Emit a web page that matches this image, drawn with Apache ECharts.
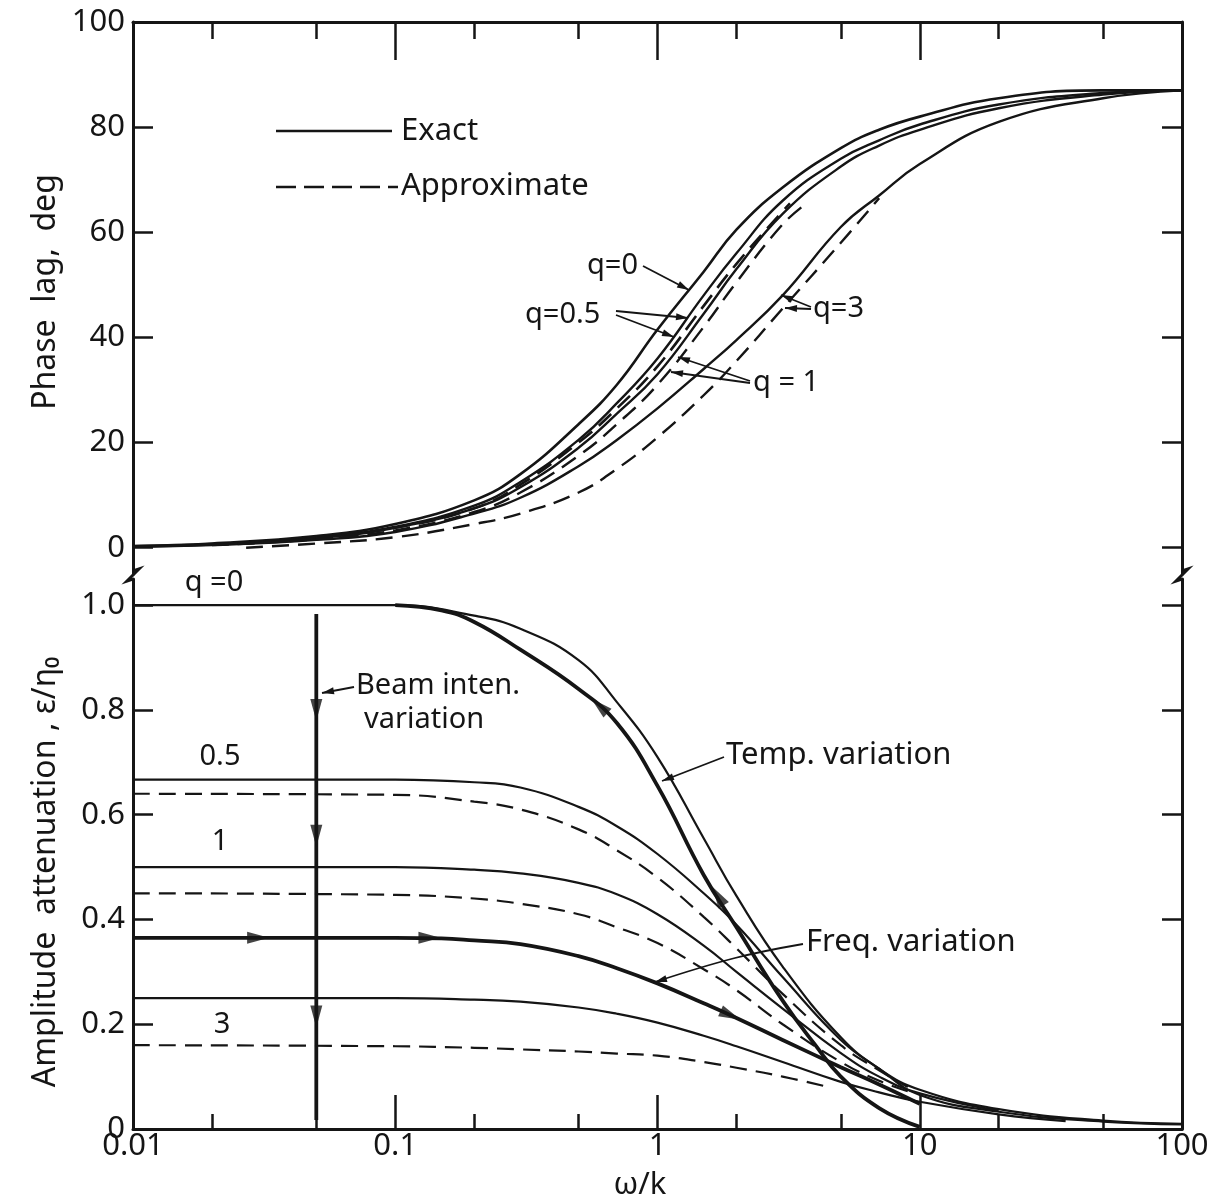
<!DOCTYPE html>
<html>
<head>
<meta charset="utf-8">
<script src="https://cdn.jsdelivr.net/npm/echarts@6.0.0/dist/echarts.min.js"></script>
<style>
  html, body { margin: 0; padding: 0; background: #fff; }
  #main { width: 1219px; height: 1202px; }
</style>
</head>
<body>
<div id="main"></div>
<script>
// ---- values ----
const omegaTicks = [0.01, 0.1, 1, 10, 100];
const omegaTickLabels = ['0.01', '0.1', '1', '10', '100'];
const omegaMinorTicks = [0.02, 0.05, 0.2, 0.5, 2, 5, 20, 50];
const phaseTicks = [0, 20, 40, 60, 80, 100];
const ampTicks = [0, 0.2, 0.4, 0.6, 0.8, 1.0];
const ampTickLabels = ['0', '0.2', '0.4', '0.6', '0.8', '1.0'];

// phase lag, deg (top panel)
const phaseX = [0.01, 0.02, 0.05, 0.1, 0.2, 0.3, 0.5, 0.7, 1, 1.5, 2, 3, 5, 7, 10, 20, 50, 100];
const phaseExactQ0 = [0.3, 0.8, 2.2, 4.5, 9, 14, 23.5, 31, 41.5, 52.5, 60.5, 68.5, 76, 79.5, 82, 85.5, 87, 87];
const phaseExactQ05 = [0.3, 0.7, 2, 4, 8, 12.5, 20.5, 27.5, 36, 48, 56, 66, 74, 77.5, 80.5, 84.3, 86.5, 87];
const phaseExactQ1 = [0.3, 0.6, 1.8, 3.8, 7.5, 11.5, 19, 25.5, 33, 44.5, 53, 63.5, 72.5, 76.5, 79.5, 83.6, 86.2, 87];
const phaseExactQ3 = [0.2, 0.5, 1.5, 3, 6.5, 9.5, 15.5, 20.5, 26.5, 34, 39.5, 48, 61, 67, 73, 81, 85.5, 87];
const phaseApproxQ05X = [0.02, 0.05, 0.1, 0.2, 0.3, 0.5, 0.7, 1, 1.5, 2, 3, 3.2];
const phaseApproxQ05 = [0.6, 1.8, 3.8, 7.5, 12, 20, 26.5, 34.5, 46, 54, 64, 65.5];
const phaseApproxQ1X = [0.02, 0.05, 0.1, 0.2, 0.3, 0.5, 0.7, 1, 1.5, 2, 3, 3.7];
const phaseApproxQ1 = [0.5, 1.6, 3.3, 6.8, 10.5, 17.5, 23.5, 31, 42, 50.5, 61.5, 65.5];
const phaseApproxQ3X = [0.027, 0.05, 0.1, 0.2, 0.3, 0.5, 0.7, 1, 1.5, 2, 3, 5, 7];
const phaseApproxQ3 = [0, 0.8, 2, 4.5, 6.5, 10.5, 15, 21, 29, 35.5, 45.5, 58, 66.5];

// amplitude attenuation (bottom panel)
const ampX = [0.01, 0.1, 0.2, 0.3, 0.5, 0.7, 1, 1.5, 2, 3, 5, 7, 10, 20, 50, 100];
const ampExactQ0 = [1, 1, 0.98, 0.955, 0.895, 0.815, 0.71, 0.555, 0.445, 0.31, 0.175, 0.115, 0.075, 0.038, 0.016, 0.01];
const ampExactQ05 = [0.667, 0.667, 0.662, 0.652, 0.615, 0.578, 0.525, 0.45, 0.39, 0.29, 0.17, 0.115, 0.065, 0.033, 0.014, 0.009];
const ampExactQ1X = [0.01, 0.1, 0.2, 0.3, 0.5, 0.7, 1, 1.5, 2, 3, 5, 7, 10, 20];
const ampExactQ1 = [0.5, 0.5, 0.495, 0.488, 0.47, 0.448, 0.41, 0.35, 0.3, 0.23, 0.145, 0.1, 0.068, 0.035];
const ampExactQ3X = [0.01, 0.1, 0.2, 0.3, 0.5, 0.7, 1, 1.5, 2, 3, 5, 7, 10, 20, 36];
const ampExactQ3 = [0.25, 0.25, 0.247, 0.243, 0.232, 0.22, 0.203, 0.178, 0.158, 0.128, 0.09, 0.07, 0.052, 0.028, 0.015];
const ampApproxX = [0.01, 0.1, 0.2, 0.3, 0.5, 0.7, 1, 1.5, 2, 3, 5, 7, 9];
const ampApproxQ05 = [0.64, 0.638, 0.625, 0.61, 0.572, 0.532, 0.48, 0.405, 0.345, 0.258, 0.16, 0.112, 0.08];
const ampApproxQ1 = [0.45, 0.447, 0.44, 0.43, 0.41, 0.385, 0.355, 0.305, 0.265, 0.2, 0.128, 0.092, 0.072];
const ampApproxQ3X = [0.01, 0.1, 0.2, 0.3, 0.5, 0.7, 1, 1.5, 2, 3, 4.5];
const ampApproxQ3 = [0.16, 0.158, 0.155, 0.152, 0.148, 0.144, 0.14, 0.128, 0.117, 0.1, 0.08];
const freqX = [0.01, 0.1, 0.15, 0.2, 0.3, 0.5, 0.7, 1, 1.5, 2, 3, 5, 7, 10];
const freqVar = [0.365, 0.365, 0.364, 0.36, 0.353, 0.33, 0.307, 0.278, 0.24, 0.212, 0.17, 0.118, 0.085, 0.048];
const tempX = [0.1, 0.15, 0.2, 0.3, 0.5, 0.7, 1, 1.5, 2, 3, 4, 5, 7, 10];
const tempVar = [1.0, 0.99, 0.968, 0.915, 0.84, 0.775, 0.655, 0.485, 0.385, 0.245, 0.16, 0.1, 0.04, 0.004];
const beamX = [0.05, 0.05];
const beamVar = [0.983, 0.017];

// arrowheads along the variation paths: [omega/k, value, direction deg]
const freqArrows = [[0.03, 0.365, 0], [0.135, 0.365, 0], [1.9, 0.217, -24]];
const tempArrows = [[0.6, 0.808, 138], [1.7, 0.445, 122]];
const beamArrows = [[0.05, 0.8, -90], [0.05, 0.56, -90], [0.05, 0.215, -90]];

const INK = '#151515';
const FONT = '"Noto Sans", "DejaVu Sans", sans-serif';

const chart = echarts.init(document.getElementById('main'), null, { renderer: 'canvas' });

function pairs(xs, ys) {
  return xs.map((x, i) => [x, ys[i]]);
}

function curve(xs, ys, bottom, width, dashed) {
  return {
    type: 'line',
    xAxisIndex: bottom ? 2 : 0,
    yAxisIndex: bottom ? 3 : 0,
    data: pairs(xs, ys),
    showSymbol: false,
    symbol: 'none',
    smooth: 0.45,
    silent: true,
    animation: false,
    lineStyle: { color: INK, width: width, type: dashed ? [17, 9] : 'solid', cap: 'butt' }
  };
}

function arrows(list) {
  return {
    type: 'scatter',
    xAxisIndex: 2,
    yAxisIndex: 3,
    silent: true,
    animation: false,
    symbol: 'path://M0,0 L6,20 L-6,20 Z',
    symbolSize: [12, 22],
    itemStyle: { color: INK },
    data: list.map(a => ({ value: [a[0], a[1]], symbolRotate: a[2] - 90 })),
    z: 5
  };
}

function leader(pts) {
  const n = pts.length;
  const [x1, y1] = pts[n - 2];
  const [x2, y2] = pts[n - 1];
  const a = Math.atan2(y2 - y1, x2 - x1);
  const L = 12, w = 3.5;
  const bx = x2 - L * Math.cos(a), by = y2 - L * Math.sin(a);
  return [
    { type: 'polyline', silent: true, z: 100, shape: { points: pts, smooth: n > 2 ? 0.4 : 0 }, style: { stroke: INK, lineWidth: 1.8, fill: null } },
    { type: 'polygon', silent: true, z: 100, shape: { points: [[x2, y2], [bx + w * Math.sin(a), by - w * Math.cos(a)], [bx - w * Math.sin(a), by + w * Math.cos(a)]] }, style: { fill: INK } }
  ];
}

function text(str, x, y, size, align) {
  return {
    type: 'text', silent: true, z: 100, x: x, y: y,
    style: { text: str, font: size + 'px ' + FONT, fill: INK, align: align || 'left', verticalAlign: 'middle', textAlign: align || 'left', textVerticalAlign: 'middle' }
  };
}

function labelFor(v, ticks, labels) {
  for (let i = 0; i < ticks.length; i++) {
    if (Math.abs(v - ticks[i]) < 1e-9 * Math.max(1, Math.abs(ticks[i])) + 1e-12) return labels[i];
  }
  return '';
}

const logAxisBase = {
  type: 'log', logBase: 10, min: 0.01, max: 100,
  splitLine: { show: false }, minorTick: { show: false }, minorSplitLine: { show: false }
};
const lineStyle = { color: INK, width: 3 };
const tickStyle = { color: INK, width: 2.5 };

const grids = [
  { left: 133, right: 37, top: 22, height: 552 },
  { left: 133, right: 37, top: 22, height: 552 },
  { left: 133, right: 37, top: 579, height: 550 },
  { left: 133, right: 37, top: 579, height: 550 }
];

const xAxes = [
  Object.assign({}, logAxisBase, {
    gridIndex: 0, position: 'top',
    axisLine: { show: true, onZero: false, lineStyle: lineStyle },
    axisTick: { show: true, inside: true, length: 38, customValues: omegaTicks, lineStyle: tickStyle },
    axisLabel: { show: false }
  }),
  Object.assign({}, logAxisBase, {
    gridIndex: 1, position: 'top',
    axisLine: { show: false, onZero: false },
    axisTick: { show: true, inside: true, length: 17, customValues: omegaMinorTicks, lineStyle: tickStyle },
    axisLabel: { show: false }
  }),
  Object.assign({}, logAxisBase, {
    gridIndex: 2, position: 'bottom',
    axisLine: { show: true, onZero: false, lineStyle: lineStyle },
    axisTick: { show: true, inside: true, length: 34, customValues: omegaTicks, lineStyle: tickStyle },
    axisLabel: {
      show: true, customValues: omegaTicks, margin: 2, fontSize: 31, fontFamily: FONT, color: INK,
      formatter: v => labelFor(v, omegaTicks, omegaTickLabels)
    }
  }),
  Object.assign({}, logAxisBase, {
    gridIndex: 3, position: 'bottom',
    axisLine: { show: false, onZero: false },
    axisTick: { show: true, inside: true, length: 15, customValues: omegaMinorTicks, lineStyle: tickStyle },
    axisLabel: { show: false }
  })
];

const yAxes = [
  {
    gridIndex: 0, type: 'value', position: 'left', min: -5, max: 100,
    axisLine: { show: true, onZero: false, lineStyle: lineStyle },
    axisTick: { show: true, inside: true, length: 20, customValues: phaseTicks, lineStyle: tickStyle },
    axisLabel: { show: true, customValues: phaseTicks, margin: 8, fontSize: 31, fontFamily: FONT, color: INK },
    splitLine: { show: false }
  },
  {
    gridIndex: 0, type: 'value', position: 'right', min: -5, max: 100,
    axisLine: { show: true, onZero: false, lineStyle: lineStyle },
    axisTick: { show: true, inside: true, length: 20, customValues: phaseTicks, lineStyle: tickStyle },
    axisLabel: { show: false },
    splitLine: { show: false }
  },
  { gridIndex: 1, type: 'value', min: -5, max: 100, show: false },
  {
    gridIndex: 2, type: 'value', position: 'left', min: 0, max: 1.05,
    axisLine: { show: true, onZero: false, lineStyle: lineStyle },
    axisTick: { show: true, inside: true, length: 20, customValues: ampTicks, lineStyle: tickStyle },
    axisLabel: {
      show: true, customValues: ampTicks, margin: 8, fontSize: 31, fontFamily: FONT, color: INK,
      formatter: v => labelFor(v, ampTicks, ampTickLabels)
    },
    splitLine: { show: false }
  },
  {
    gridIndex: 2, type: 'value', position: 'right', min: 0, max: 1.05,
    axisLine: { show: true, onZero: false, lineStyle: lineStyle },
    axisTick: { show: true, inside: true, length: 20, customValues: ampTicks, lineStyle: tickStyle },
    axisLabel: { show: false },
    splitLine: { show: false }
  },
  { gridIndex: 3, type: 'value', min: 0, max: 1.05, show: false }
];

const series = [
  curve(phaseX, phaseExactQ0, false, 2.6),
  curve(phaseX, phaseExactQ05, false, 2.4),
  curve(phaseX, phaseExactQ1, false, 2.4),
  curve(phaseX, phaseExactQ3, false, 2.4),
  curve(phaseApproxQ05X, phaseApproxQ05, false, 2.6, true),
  curve(phaseApproxQ1X, phaseApproxQ1, false, 2.4, true),
  curve(phaseApproxQ3X, phaseApproxQ3, false, 2.4, true),

  curve(ampX, ampExactQ0, true, 2.2),
  curve(ampX, ampExactQ05, true, 2.2),
  curve(ampExactQ1X, ampExactQ1, true, 2.2),
  curve(ampExactQ3X, ampExactQ3, true, 2.2),
  curve(ampApproxX, ampApproxQ05, true, 2.2, true),
  curve(ampApproxX, ampApproxQ1, true, 2.2, true),
  curve(ampApproxQ3X, ampApproxQ3, true, 2.2, true),
  curve(freqX, freqVar, true, 3.8),
  curve(tempX, tempVar, true, 3.8),
  Object.assign(curve(beamX, beamVar, true, 3.8), { smooth: false }),
  arrows(freqArrows),
  arrows(tempArrows),
  arrows(beamArrows)
];

// axis break marks on both frames
function breakMark(x) {
  return {
    type: 'polyline', silent: true, z: 100,
    shape: { points: [[x, 571], [x + 6, 569], [x - 6, 581], [x, 579]] },
    style: { stroke: INK, lineWidth: 3, fill: null }
  };
}

const graphics = [
  breakMark(133), breakMark(1182),
  // legend
  { type: 'line', silent: true, z: 100, shape: { x1: 276, y1: 131, x2: 392, y2: 131 }, style: { stroke: INK, lineWidth: 2.6 } },
  { type: 'line', silent: true, z: 100, shape: { x1: 276, y1: 187, x2: 398, y2: 187 }, style: { stroke: INK, lineWidth: 2.6, lineDash: [20, 8] } },
  text('Exact', 401, 131, 31),
  text('Approximate', 401, 186, 31),
  // top panel labels
  text('q=0', 587, 266, 29),
  ...leader([[643, 266], [689, 290]]),
  text('q=0.5', 525, 315, 29),
  ...leader([[616, 311], [688, 318]]),
  ...leader([[616, 315], [674, 337]]),
  text('q = 1', 753, 383, 29),
  ...leader([[750, 381], [678, 357]]),
  ...leader([[750, 383], [671, 372]]),
  text('q=3', 813, 309, 29),
  ...leader([[811, 307], [781, 295]]),
  ...leader([[811, 309], [785, 308]]),
  // bottom panel labels
  text('q =0', 214, 583, 29, 'center'),
  text('0.5', 220, 757, 29, 'center'),
  text('1', 220, 842, 29, 'center'),
  text('3', 222, 1025, 29, 'center'),
  text('Beam inten.', 356, 686, 29),
  text('variation', 364, 720, 29),
  ...leader([[354, 687], [322, 693]]),
  text('Temp. variation', 726, 755, 31),
  ...leader([[724, 757], [662, 781]]),
  text('Freq. variation', 806, 942, 31),
  ...leader([[803, 944], [735, 958], [655, 982]]),
  // axis titles
  text('ω/k', 640, 1185, 31, 'center'),
  Object.assign(text('Phase  lag,  deg', 46, 292, 32, 'center'), { rotation: Math.PI / 2 }),
  Object.assign(text('Amplitude  attenuation , ε/η₀', 46, 872, 32, 'center'), { rotation: Math.PI / 2 })
];

chart.setOption({
  backgroundColor: '#fff',
  animation: false,
  textStyle: { fontFamily: FONT },
  grid: grids,
  xAxis: xAxes,
  yAxis: yAxes,
  series: series,
  graphic: graphics
});
</script>
</body>
</html>
